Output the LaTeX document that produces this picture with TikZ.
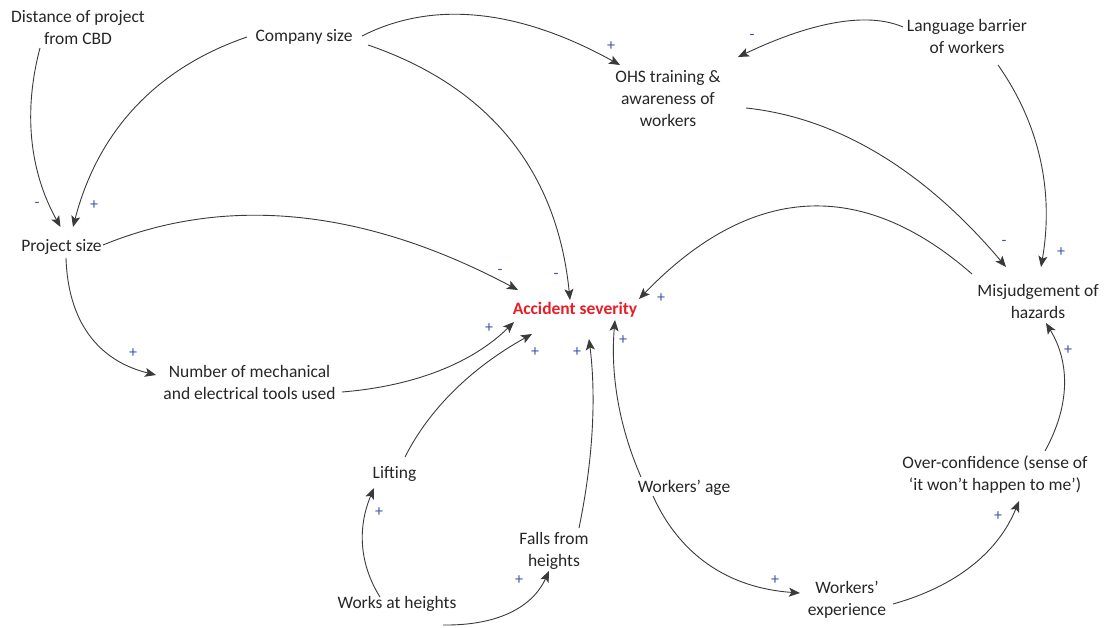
\documentclass[tikz,border=0pt]{standalone}
\usepackage{fontspec}
\setmainfont{Carlito}
\usetikzlibrary{arrows.meta}
\definecolor{linegray}{RGB}{58,58,58}
\definecolor{signblue}{RGB}{60,82,180}
\definecolor{accred}{RGB}{232,30,40}
\begin{document}
\begin{tikzpicture}[x=1pt,y=-1pt,
  var/.style={align=center,inner sep=0pt,text=black!85,font=\fontsize{17.5}{22}\selectfont},
  sign/.style={inner sep=0pt,text=signblue,font=\fontsize{16}{18}\selectfont},
  link/.style={draw=linegray,line width=0.9pt,-{Stealth[length=11pt,width=9pt,inset=2.5pt]}}]
\useasboundingbox (0,0) rectangle (1105,628);
% variables
\node[var] (dist) at (78,27.5) {Distance of project\\from CBD};
\node[var] (cs) at (304,37) {Company size};
\node[var] (ohs) at (668,99) {OHS training \&\\awareness of\\workers};
\node[var] (lang) at (967,36) {Language barrier\\of workers};
\node[var] (ps) at (61.5,247) {Project size};
\node[var,text=accred,font=\fontsize{17.5}{22}\selectfont\bfseries] (acc) at (575,310) {Accident severity};
\node[var] (mis) at (1038,301) {Misjudgement of\\hazards};
\node[var] (num) at (249.5,382.5) {Number of mechanical\\and electrical tools used};
\node[var] (lift) at (394.5,474) {Lifting};
\node[var] (wah) at (397,604) {Works at heights};
\node[var] (falls) at (554,550.5) {Falls from\\heights};
\node[var] (age) at (684,488) {Workers’ age};
\node[var] (exp) at (847,600) {Workers’\\experience};
\node[var] (over) at (995,475) {Over-confidence (sense of\\‘it won’t happen to me’)};
% connectors
\draw[link] ([shift={(-38,20.5)}]dist.center) .. controls +(-16.7,63) and +(-31.3,-56.3) .. ([shift={(-1,-20)}]ps.center);
\draw[link] ([shift={(-57,0)}]cs.center) .. controls +(-91.3,31.3) and +(24.7,-95.3) .. ([shift={(11.5,-20)}]ps.center);
\draw[link] ([shift={(58,-1)}]cs.center) .. controls +(71.3,-36.3) and +(-100.7,-55.7) .. ([shift={(-48,-34)}]ohs.center);
\draw[link] ([shift={(64,8)}]cs.center) .. controls +(122,41.7) and +(-12.7,-128.3) .. ([shift={(-5,-10)}]acc.center);
\draw[link] ([shift={(-64,-9)}]lang.center) .. controls +(-35.7,-15.3) and +(74.3,-35.3) .. ([shift={(70,-42)}]ohs.center);
\draw[link] ([shift={(31,29)}]lang.center) .. controls +(41.7,59.3) and +(13,-75.3) .. ([shift={(3,-34)}]mis.center);
\draw[link] ([shift={(78,9)}]ohs.center) .. controls +(92,9.7) and +(-81.3,-96.3) .. ([shift={(-32,-34)}]mis.center);
\draw[link] ([shift={(-66,-27)}]mis.center) .. controls +(-111.7,-97.7) and +(110.3,-114.3) .. ([shift={(64,-11)}]acc.center);
\draw[link] ([shift={(41.5,-2)}]ps.center) .. controls +(124.3,-51) and +(-152.3,-81) .. ([shift={(-57,-20)}]acc.center);
\draw[link] ([shift={(4.5,11)}]ps.center) .. controls +(2,63.7) and +(-58,-14.3) .. ([shift={(-93.5,-7.5)}]num.center);
\draw[link] ([shift={(92.5,9.5)}]num.center) .. controls +(73.3,-6) and +(-41.3,40.7) .. ([shift={(-61,12)}]acc.center);
\draw[link] ([shift={(10.5,-17)}]lift.center) .. controls +(24.3,-48.3) and +(-60.3,33.7) .. ([shift={(-43,24)}]acc.center);
\draw[link] ([shift={(-17,-7)}]wah.center) .. controls +(-20.7,-33) and +(-16.7,39.7) .. ([shift={(-20.5,14)}]lift.center);
\draw[link] ([shift={(46,21)}]wah.center) .. controls +(54,0.7) and +(-16.7,36.7) .. ([shift={(-5,20.5)}]falls.center);
\draw[link] ([shift={(25,-22.5)}]falls.center) .. controls +(14,-67.7) and +(7.3,58.3) .. ([shift={(14,29)}]acc.center);
\draw[link] ([shift={(-43,-11)}]age.center) .. controls +(-22,-50.3) and +(-4.7,54.3) .. ([shift={(40,10)}]acc.center);
\draw[link] ([shift={(-31,8)}]age.center) .. controls +(27,59.7) and +(-71,-5) .. ([shift={(-47,-7)}]exp.center);
\draw[link] ([shift={(46,4)}]exp.center) .. controls +(63.3,-17.7) and +(-20.7,51) .. ([shift={(24,26)}]over.center);
\draw[link] ([shift={(50,-24)}]over.center) .. controls +(25,-45.3) and +(24.3,40) .. ([shift={(8,22)}]mis.center);
% polarity signs
\node[sign] (s1) at (37,205) {-};
\node[sign] (s2) at (94,205) {+};
\node[sign] (s3) at (611,46) {+};
\node[sign] (s4) at (752,37) {-};
\node[sign] (s5) at (556,276) {-};
\node[sign] (s6) at (500,272) {-};
\node[sign] (s7) at (1004,243) {-};
\node[sign] (s8) at (1061,252) {+};
\node[sign] (s9) at (661,298) {+};
\node[sign] (s10) at (133,353) {+};
\node[sign] (s11) at (489,328) {+};
\node[sign] (s12) at (535,352) {+};
\node[sign] (s13) at (577,352) {+};
\node[sign] (s14) at (623,340) {+};
\node[sign] (s15) at (379,512) {+};
\node[sign] (s16) at (519,580) {+};
\node[sign] (s17) at (775,580) {+};
\node[sign] (s18) at (998,516) {+};
\node[sign] (s19) at (1068,350) {+};
\end{tikzpicture}
\end{document}
